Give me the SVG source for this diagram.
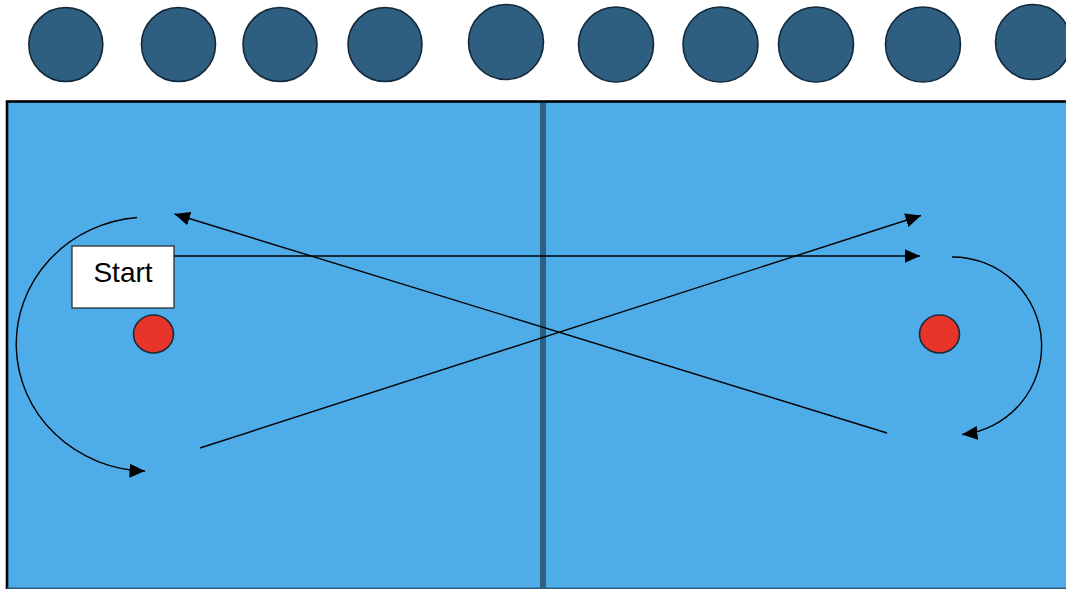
<svg xmlns="http://www.w3.org/2000/svg" width="1066" height="589" viewBox="0 0 1066 589">
<style>
.ball{fill:#2E5E80;stroke:#13293b;stroke-width:1.6}
.cone{fill:#E8352A;stroke:#1d2b36;stroke-width:1.6}
.path{fill:none;stroke:#000;stroke-width:1.4}
.lbl{font-family:"Liberation Sans",Arial,sans-serif;font-size:28px;fill:#000}
</style>
<defs>
<marker id="ah" markerUnits="userSpaceOnUse" markerWidth="17" markerHeight="15" refX="15.5" refY="7" orient="auto" viewBox="0 0 17 15">
<path d="M0,0 L15.5,7 L0,14 Z" fill="#000"/>
</marker>
</defs>
<rect x="0" y="0" width="1066" height="589" fill="#fff"/>
<g id="players">
<circle class="ball" cx="65.8" cy="44.5" r="37"/>
<circle class="ball" cx="178.5" cy="44.5" r="37"/>
<circle class="ball" cx="280" cy="44.5" r="37"/>
<circle class="ball" cx="385" cy="44.5" r="37"/>
<circle class="ball" cx="506" cy="42" r="37.5"/>
<circle class="ball" cx="616" cy="44.5" r="37.5"/>
<circle class="ball" cx="720.5" cy="44.5" r="37.5"/>
<circle class="ball" cx="816" cy="44.5" r="37.5"/>
<circle class="ball" cx="923" cy="44.5" r="37.5"/>
<circle class="ball" cx="1033" cy="42" r="37.5"/>
</g>
<g id="field">
<rect x="7" y="101.5" width="1070" height="500" fill="#4EACE8" stroke="#000" stroke-width="2.6"/>
<line x1="7" y1="588.3" x2="1066" y2="588.3" stroke="#2B5B7C" stroke-width="1.5"/>
<line id="halfway" x1="543" y1="103" x2="543" y2="589" stroke="#2E5E80" stroke-width="6"/>
</g>
<g id="cone-left"><ellipse class="cone" cx="153.5" cy="334" rx="20" ry="19"/></g>
<g id="cone-right"><ellipse class="cone" cx="939.5" cy="334" rx="20" ry="19"/></g>
<g id="connectors">
<line class="path" x1="174" y1="256" x2="920" y2="256" marker-end="url(#ah)"/>
<line class="path" x1="200" y1="448" x2="921" y2="215.5" marker-end="url(#ah)"/>
<line class="path" x1="887" y1="433" x2="174.5" y2="214" marker-end="url(#ah)"/>
<path class="path" d="M137,217.5 A132,127 0 0 0 145,471" marker-end="url(#ah)"/>
<path class="path" d="M952,257 A89,89 0 0 1 962,434.5" marker-end="url(#ah)"/>
</g>
<g id="start">
<rect x="72" y="246" width="102" height="62" fill="#fff" stroke="#222" stroke-width="1.2"/>
<text class="lbl" x="123" y="282" text-anchor="middle">Start</text>
</g>
</svg>
